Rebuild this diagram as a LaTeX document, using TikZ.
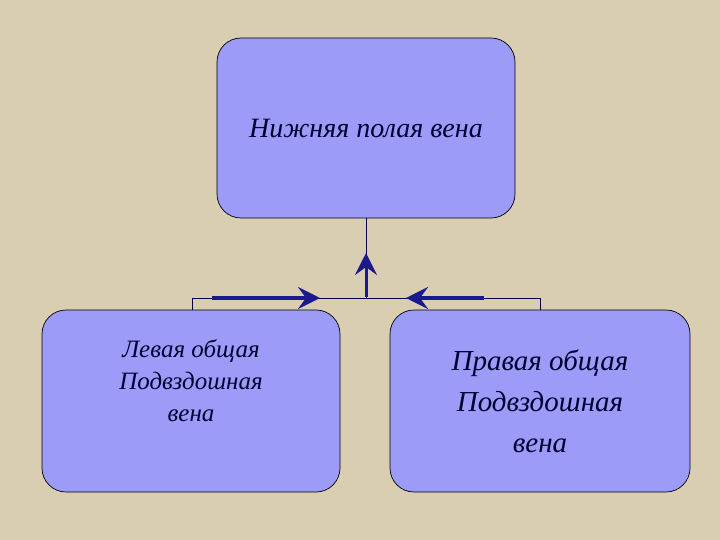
\documentclass[tikz,border=0pt]{standalone}
\usepackage{fontspec}
\setmainfont{Liberation Serif}
\usetikzlibrary{arrows.meta}
\definecolor{bg}{HTML}{D9CDB2}
\definecolor{boxf}{HTML}{9C9CF8}
\definecolor{arr}{HTML}{1A1A8C}
\begin{document}
\begin{tikzpicture}[x=1pt,y=-1pt,
  vbox/.style={draw=black,fill=boxf,rounded corners=24pt,line width=0.7pt,align=center,font=\itshape,text=black!80!blue},
  thick arr/.style={arr,line width=4pt,-{Stealth[length=22pt,width=22pt,inset=8pt]}},
  wire/.style={black!70!blue,line width=1pt}]
\fill[bg] (0,0) rectangle (720,540);
\useasboundingbox (0,0) rectangle (720,540);
\node[vbox,minimum width=298pt,minimum height=180pt,font=\itshape\fontsize{28}{32}\selectfont] (top) at (366,128) {Нижняя полая вена};
\node[vbox,minimum width=298pt,minimum height=182pt] (left) at (191,401) {};
\node[align=center,text=black!80!blue,font=\itshape\fontsize{25}{32}\selectfont] (lefttext) at (191,381) {Левая общая\\Подвздошная\\вена};
\node[vbox,minimum width=300pt,minimum height=182pt,font=\itshape\fontsize{29}{41}\selectfont] (right) at (540,401) {Правая общая\\Подвздошная\\вена};
\coordinate (j) at (366,298);
\coordinate (jl) at (192,298);
\coordinate (jr) at (540,298);
\draw[wire] (top.south) -- (j);
\draw[wire] (left.north -| jl) -- (jl) -- (jr) -- (right.north -| jr);
\coordinate (a1s) at (212,298); \coordinate (a1e) at (320,298);
\coordinate (a2s) at (484,298); \coordinate (a2e) at (406,298);
\coordinate (a3s) at (366,297); \coordinate (a3e) at (366,253);
\draw[thick arr] (a1s) -- (a1e);
\draw[thick arr] (a2s) -- (a2e);
\draw[thick arr,line width=3pt] (a3s) -- (a3e);
\end{tikzpicture}
\end{document}
